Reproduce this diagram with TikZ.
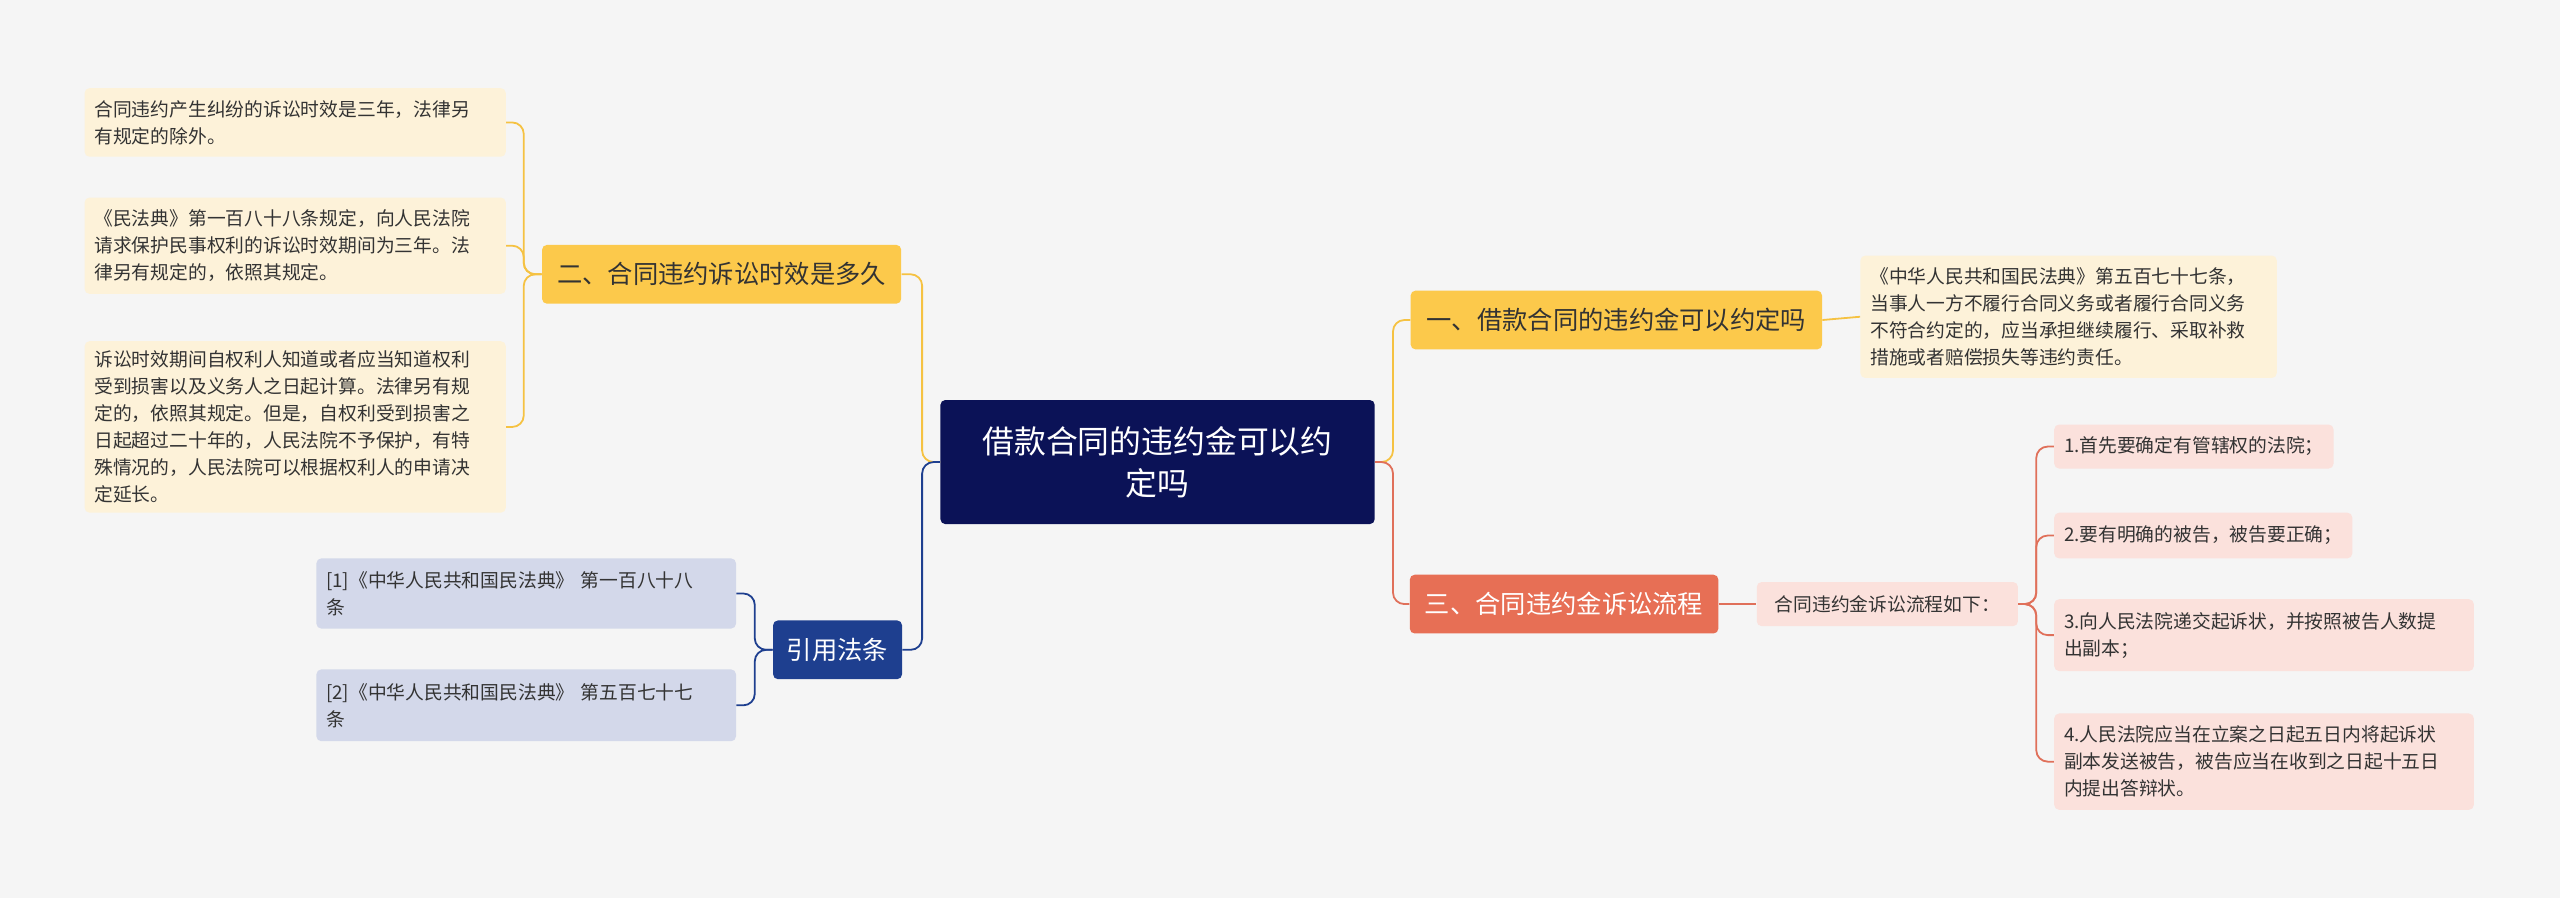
\documentclass[tikz,border=0pt]{standalone}
\usepackage{fontspec}
\setmainfont{Noto Sans CJK SC}
\definecolor{bg}{HTML}{F5F5F5}
\definecolor{navy}{HTML}{0B1257}
\definecolor{refblue}{HTML}{1E3F8F}
\definecolor{reffill}{HTML}{D3D8EA}
\definecolor{ylw}{HTML}{FCC94B}
\definecolor{lylw}{HTML}{FDF2D9}
\definecolor{salm}{HTML}{E76F55}
\definecolor{lpink}{HTML}{FBE1DC}
\definecolor{ylwline}{HTML}{F5C242}
\definecolor{salmline}{HTML}{E0705A}
\definecolor{txt}{HTML}{333333}
\begin{document}
\begin{tikzpicture}[x=1pt,y=-1pt,
  box/.style={rounded corners=3pt,inner xsep=6pt,inner ysep=4pt,align=left,text=txt},
  leafy/.style={box,fill=lylw,font=\fontsize{11.5}{16.5}\selectfont},
  leafp/.style={box,fill=lpink,font=\fontsize{11.5}{16.5}\selectfont,text=txt},
  leafr/.style={box,fill=reffill,font=\fontsize{11.5}{16.5}\selectfont},
  branchy/.style={box,fill=ylw,font=\fontsize{15.5}{20}\selectfont,inner xsep=8pt,minimum height=36pt},
  con/.style={line width=1.1pt,rounded corners=7pt}]
\fill[bg] (0,0) rectangle (1568,550);
\useasboundingbox (0,0) rectangle (1568,550);
% center
\node[rounded corners=3pt,fill=navy,text=white,align=center,minimum width=266pt,minimum height=76pt,
  font=\fontsize{19.5}{26}\selectfont] (c) at (709,283) {借款合同的违约金可以约\\定吗};
% right branches
\node[branchy,minimum width=252pt] (b1) at (990,196) {一、借款合同的违约金可以约定吗};
\node[leafy,text width=243pt,minimum height=75pt] (l1) at (1267,194) {《中华人民共和国民法典》第五百七十七条，\\当事人一方不履行合同义务或者履行合同义务\\不符合约定的，应当承担继续履行、采取补救\\措施或者赔偿损失等违约责任。};
\node[box,fill=salm,text=white,font=\fontsize{15.5}{20}\selectfont,inner xsep=8pt,minimum height=36pt,minimum width=189pt] (b3) at (958,370) {三、合同违约金诉讼流程};
\node[leafp,minimum width=160pt,minimum height=27pt,align=center] (p0) at (1156,370) {合同违约金诉讼流程如下：};
\node[leafp,minimum height=27pt,anchor=west] (p1) at (1258,273.5) {1.首先要确定有管辖权的法院；};
\node[leafp,minimum height=28pt,anchor=west] (p2) at (1258,328) {2.要有明确的被告，被告要正确；};
\node[leafp,text width=245pt,minimum height=44pt,anchor=west] (p3) at (1258,389) {3.向人民法院递交起诉状，并按照被告人数提\\出副本；};
\node[leafp,text width=245pt,minimum height=59pt,anchor=west] (p4) at (1258,466.5) {4.人民法院应当在立案之日起五日内将起诉状\\副本发送被告，被告应当在收到之日起十五日\\内提出答辩状。};
% left branches
\node[branchy,minimum width=220pt] (b2) at (442,168) {二、合同违约诉讼时效是多久};
\node[leafy,text width=246pt,minimum height=42pt,anchor=east] (q1) at (310,75) {合同违约产生纠纷的诉讼时效是三年，法律另\\有规定的除外。};
\node[leafy,text width=246pt,minimum height=59pt,anchor=east] (q2) at (310,150.5) {《民法典》第一百八十八条规定，向人民法院\\请求保护民事权利的诉讼时效期间为三年。法\\律另有规定的，依照其规定。};
\node[leafy,text width=246pt,minimum height=105pt,anchor=east] (q3) at (310,261.5) {诉讼时效期间自权利人知道或者应当知道权利\\受到损害以及义务人之日起计算。法律另有规\\定的，依照其规定。但是，自权利受到损害之\\日起超过二十年的，人民法院不予保护，有特\\殊情况的，人民法院可以根据权利人的申请决\\定延长。};
\node[box,fill=refblue,text=white,font=\fontsize{15.5}{20}\selectfont,minimum width=79pt,minimum height=36pt,align=center] (r) at (513,398) {引用法条};
\node[leafr,text width=245pt,minimum height=43pt,anchor=east] (r1) at (451,363.5) {[1]《中华人民共和国民法典》 第一百八十八\\条};
\node[leafr,text width=245pt,minimum height=44pt,anchor=east] (r2) at (451,432) {[2]《中华人民共和国民法典》 第五百七十七\\条};
% connectors
\draw[con,ylwline] (c.east) -- ++(11,0) |- (b1.west);
\draw[con,salmline] (c.east) -- ++(11,0) |- (b3.west);
\draw[con,ylwline] (b1.east) -- (l1.west);
\draw[con,salmline] (b3.east) -- (p0.west);
\foreach \p in {p1,p2,p3,p4} \draw[con,salmline] (p0.east) -- ++(11,0) |- (\p.west);
\draw[con,ylwline] (c.west) -- ++(-11,0) |- (b2.east);
\draw[con,refblue] (c.west) -- ++(-11,0) |- (r.east);
\foreach \q in {q1,q2,q3} \draw[con,ylwline] (b2.west) -- ++(-11,0) |- (\q.east);
\foreach \q in {r1,r2} \draw[con,refblue] (r.west) -- ++(-11,0) |- (\q.east);
\end{tikzpicture}
\end{document}
